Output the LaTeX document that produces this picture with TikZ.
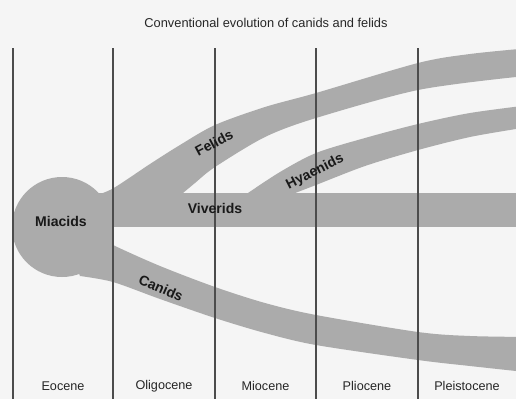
\documentclass[tikz,border=0pt]{standalone}
\usepackage{fontspec}
\setmainfont{Liberation Sans}
\usetikzlibrary{positioning, calc}
\definecolor{paperbg}{rgb}{0.96, 0.96, 0.96}
\definecolor{bandgrey}{rgb}{0.67, 0.67, 0.67}
\definecolor{epochline}{rgb}{0.30, 0.30, 0.30}
\tikzset{band/.style={fill=bandgrey, draw=none}}
\tikzset{epochrule/.style={draw=epochline, line width=1.3pt}}
\tikzset{epochname/.style={font=\fontsize{7.2}{8}\selectfont, text=black!85, inner sep=0pt}}
\tikzset{groupname/.style={font=\fontsize{8}{9}\selectfont\bfseries, text=black!90, inner sep=0pt}}

\begin{document}
\begin{tikzpicture}[x=0.02cm, y=-0.02cm]
    \useasboundingbox (0,0) rectangle (516,399);
    \fill[paperbg] (0,0) rectangle (516,399);
    \clip (0,0) rectangle (516,399);

    % Miacids body and Viverids trunk
    \fill[band] (62,227) circle [radius=50];
    \fill[band] (60,193) rectangle (530,227);
    \fill[band] (62,200) rectangle (113,250);

    % Felids
    \fill[band] plot[smooth] coordinates {(90,197) (112,189) (150,164) (180,145) (215,125) (265,107) (316,93) (418,63) (470,54) (530,48)}
        -- (530,78)
        -- plot[smooth] coordinates {(516,77) (418,90) (316,118) (265,137) (215,167) (195,183) (183,193)}
        -- (170,205) -- (100,205) -- cycle;

    % Hyaenids
    \fill[band] plot[smooth] coordinates {(248,193) (280,172) (316,153) (365,138) (418,124) (470,113) (530,105)}
        -- (530,128)
        -- plot[smooth] coordinates {(516,129) (470,137) (418,150) (365,166) (316,185) (290,195)}
        -- (240,205) -- cycle;

    % Canids
    \fill[band] plot[smooth] coordinates {(90,232) (113,245) (160,266) (215,287) (265,303) (316,315) (418,332) (470,336) (530,337)}
        -- (530,372)
        -- plot[smooth] coordinates {(516,371) (470,366) (418,360) (316,345) (265,333) (215,318) (160,299) (113,282) (80,276)}
        -- (70,250) -- cycle;

    % epoch boundaries
    \foreach \n/\x in {1/13, 2/113, 3/215, 4/316, 5/418}{
        \coordinate (T\n) at (\x,48);
        \coordinate (B\n) at (\x,399);
        \draw[epochrule] (T\n) -- (B\n);
    }
    \coordinate (T6) at (516,48);

    \node[font=\fontsize{7.3}{8}\selectfont, text=black!85, inner sep=0pt] (title) at (266,23) {Conventional evolution of canids and felids};

    \node[epochname] (eocene)      at ($(T1)!0.5!(T2)+(0,338)$) {Eocene};
    \node[epochname] (oligocene)   at ($(T2)!0.5!(T3)+(0,338)$) {Oligocene};
    \node[epochname] (miocene)     at ($(T3)!0.5!(T4)+(0,338)$) {Miocene};
    \node[epochname] (pliocene)    at ($(T4)!0.5!(T5)+(0,338)$) {Pliocene};
    \node[epochname] (pleistocene) at ($(T5)!0.5!(T6)+(0,338)$) {Pleistocene};

    \node[groupname] (miacids)  at (61,221) {Miacids};
    \node[groupname] (viverids) at (215,208) {Viverids};
    \node[groupname, rotate=28] (felids)   at (214,143) {Felids};
    \node[groupname, rotate=27] (hyaenids) at (315,172) {Hyaenids};
    \node[groupname, rotate=-24] (canids)  at (161,288) {Canids};
\end{tikzpicture}
\end{document}
